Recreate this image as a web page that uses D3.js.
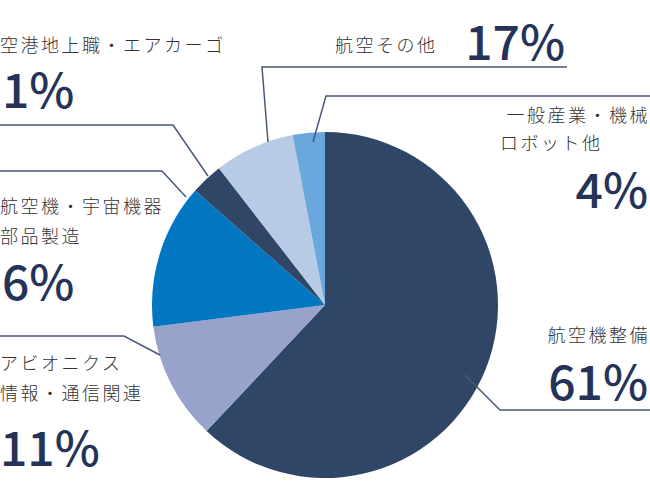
<!DOCTYPE html><html><head><meta charset="utf-8">
<script src="https://cdn.jsdelivr.net/npm/d3@7"></script>
<style>body{margin:0;background:#fff}</style></head><body>
<svg id="c" width="650" height="500"></svg>
<script>
const categories=["航空機整備","アビオニクス 情報・通信関連","航空機・宇宙機器 部品製造","空港地上職・エアカーゴ","航空その他","一般産業・機械 ロボット他"];
const sliceValues=[62,11,13.5,3,7.5,3];
const pctLabels=["61%","11%","6%","1%","17%","4%"];
const colors=["#2f4667","#97a3cb","#0077c0","#2f4667","#b8cbe6","#6aa7dc"];
const svg=d3.select("#c");
const cx=325,cy=305,r=173;
const pie=d3.pie().sort(null)(sliceValues);
const arc=d3.arc().innerRadius(0).outerRadius(r);
svg.append("g").attr("transform",`translate(${cx},${cy})`).selectAll("path").data(pie).join("path")
 .attr("d",arc).attr("fill",(d,i)=>colors[i]);
const lines=[[[465,375],[500,410],[650,410]],[[160,355],[124,336],[0,336]],[[186,197],[162,171],[0,171]],[[208,176],[173,125],[0,125]],[[268,142],[262,67],[567,67]],[[313,142],[326,96],[650,96]]];
svg.selectAll("polyline").data(lines).join("polyline").attr("points",d=>d.join(" ")).attr("fill","none").attr("stroke","#4a5878").attr("stroke-width",1.5);
const txt=(x,y,s,anchor,size,weight,col)=>svg.append("text").attr("x",x).attr("y",y).attr("text-anchor",anchor).attr("font-size",size).attr("font-weight",weight).attr("fill",col).attr("font-family","Noto Sans CJK JP").attr("letter-spacing",size<30?"2.5px":"0").text(s);
const lab="#333",big="#253358";
const names=categories.map(c=>c.split(" "));
const fs=18,bs=48;
txt(650,342,names[0][0],"end",fs,300,lab);
txt(648,400,pctLabels[0],"end",bs,500,big);
txt(0,370,names[1][0],"start",fs,300,lab);txt(0,400,names[1][1],"start",fs,300,lab);
txt(0,466,pctLabels[1],"start",bs,500,big);
txt(0,213,names[2][0],"start",fs,300,lab);txt(0,243,names[2][1],"start",fs,300,lab);
txt(2,300,pctLabels[2],"start",bs,500,big);
txt(0,52,names[3][0],"start",fs,300,lab);
txt(2,108,pctLabels[3],"start",bs,500,big);
txt(335,52,names[4][0],"start",fs,300,lab);
txt(565,60,pctLabels[4],"end",bs,500,big);
txt(650,122,names[5][0],"end",fs,300,lab);txt(500,150,names[5][1],"start",fs,300,lab);
txt(648,208,pctLabels[5],"end",bs,500,big);
</script></body></html>
